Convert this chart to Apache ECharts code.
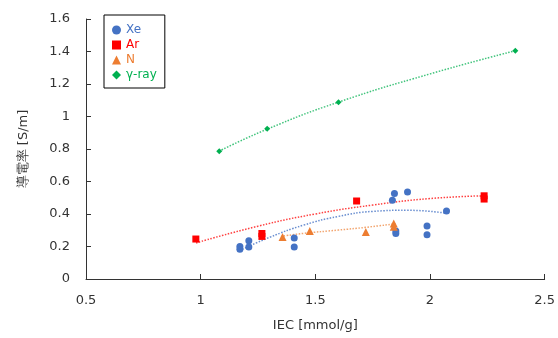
<!DOCTYPE html>
<html>
<head>
<meta charset="utf-8">
<script src="https://cdn.jsdelivr.net/npm/echarts@6/dist/echarts.min.js"></script>
<style>
  html, body { margin: 0; padding: 0; background: #fff; }
  #chart { width: 558px; height: 338px; }
</style>
</head>
<body>
<div id="chart"></div>
<script>
// measured points [IEC, conductivity]
const xeData = [
  [1.171, 0.200], [1.171, 0.183], [1.210, 0.236], [1.210, 0.197],
  [1.408, 0.252], [1.408, 0.197], [1.845, 0.526], [1.836, 0.485],
  [1.902, 0.536], [1.851, 0.295], [1.851, 0.280], [1.987, 0.326],
  [1.987, 0.273], [2.072, 0.419]
];
const arData = [
  [0.979, 0.246], [1.267, 0.280], [1.267, 0.262], [1.680, 0.480],
  [2.236, 0.512], [2.236, 0.492]
];
const nData = [
  [1.357, 0.259], [1.476, 0.296], [1.720, 0.290], [1.842, 0.342], [1.842, 0.322]
];
const gammaData = [
  [1.081, 0.786], [1.290, 0.924], [1.601, 1.088], [2.372, 1.404]
];

// trend lines
const xeTrend = [[1.17, 0.175], [1.30, 0.256], [1.45, 0.332], [1.60, 0.385], [1.75, 0.416], [1.90, 0.423], [2.07, 0.405]];
const arTrend = [[0.98, 0.222], [1.25, 0.325], [1.50, 0.400], [1.75, 0.455], [2.00, 0.495], [2.24, 0.512]];
const nTrend = [[1.35, 0.262], [1.45, 0.281], [1.60, 0.301], [1.72, 0.318], [1.85, 0.340]];
const gammaTrend = [[1.08, 0.786], [1.29, 0.922], [1.60, 1.088], [2.00, 1.262], [2.37, 1.404]];

const names = ['Xe', 'Ar', 'N', 'γ-ray'];
const colors = ['#4472C4', '#FF0000', '#ED7D31', '#00B050'];
const trendColors = ['rgba(68,114,196,0.8)', 'rgba(255,0,0,0.75)', 'rgba(237,125,49,0.7)', 'rgba(0,176,80,0.75)'];
const symbols = ['circle', 'rect', 'triangle', 'diamond'];
const sizes = [7, 7, 8, 6];

const chart = echarts.init(document.getElementById('chart'));
const font = 'DejaVu Sans, Verdana, sans-serif';

const scatter = [xeData, arData, nData, gammaData].map((d, i) => ({
  name: names[i],
  type: 'scatter',
  data: d,
  symbol: symbols[i],
  symbolSize: sizes[i],
  itemStyle: { color: colors[i], opacity: 1 },
  z: 3
}));
const trends = [xeTrend, arTrend, nTrend, gammaTrend].map((d, i) => ({
  name: names[i] + ' trend',
  type: 'line',
  data: d,
  smooth: true,
  showSymbol: false,
  silent: true,
  lineStyle: { color: trendColors[i], width: 1.5, type: [1.5, 1.5] },
  z: 2
}));

chart.setOption({
  animation: false,
  backgroundColor: '#fff',
  textStyle: { fontFamily: font },
  grid: { left: 86, right: 13, top: 19, bottom: 59 },
  legend: {
    data: names.map((n, i) => ({ name: n, textStyle: { color: colors[i] } })),
    orient: 'vertical',
    left: 104,
    top: 15,
    borderColor: '#000',
    borderWidth: 1,
    padding: [9, 8, 7, 8],
    itemWidth: 9,
    itemHeight: 9,
    itemGap: 3,
    textStyle: { fontFamily: font, fontSize: 12, padding: [0, 0, 0, 0] }
  },
  xAxis: {
    type: 'value',
    min: 0.5, max: 2.5, interval: 0.5,
    name: 'IEC [mmol/g]',
    nameLocation: 'middle',
    nameGap: 40,
    nameTextStyle: { color: '#333', fontSize: 13, fontFamily: font },
    axisLine: { lineStyle: { color: '#333' } },
    axisTick: { inside: true, length: 5, lineStyle: { color: '#333' } },
    axisLabel: { color: '#333', fontSize: 13, margin: 15, fontFamily: font },
    splitLine: { show: false }
  },
  yAxis: {
    type: 'value',
    min: 0, max: 1.6, interval: 0.2,
    name: '導電率 [S/m]',
    nameLocation: 'middle',
    nameGap: 56,
    nameTextStyle: { color: '#333', fontSize: 13, fontFamily: font },
    axisLine: { show: true, lineStyle: { color: '#333' } },
    axisTick: { show: true, inside: true, length: 5, lineStyle: { color: '#333' } },
    axisLabel: { color: '#333', fontSize: 13, margin: 16, fontFamily: font },
    splitLine: { show: false }
  },
  series: trends.concat(scatter)
});
</script>
</body>
</html>
